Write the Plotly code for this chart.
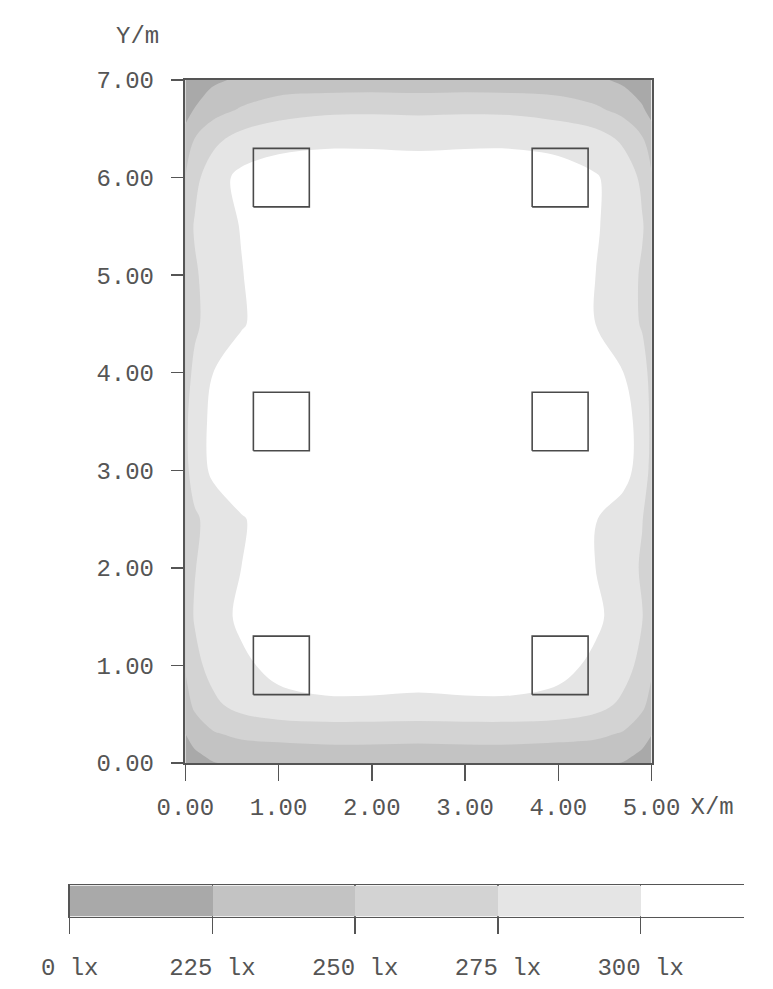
import plotly.graph_objects as go

# ---- data ----
x_nodes = [0, 0.1, 0.3, 0.6, 1.0, 1.5, 2.0, 2.5, 3.0, 3.5, 4.0, 4.4, 4.7, 4.9, 5.0]
y_nodes = [0, 0.1, 0.3, 0.6, 1.0, 1.5, 2.0, 2.5, 3.0, 3.5, 4.0, 4.5, 5.0, 5.5, 6.0, 6.4, 6.7, 6.9, 7.0]

# illuminance in lx, one row per y_nodes value
E_y00 = [205, 214, 224, 230, 232, 234, 234, 233, 234, 234, 232, 230, 224, 214, 206]
E_y01 = [212, 222, 232, 238, 240, 242, 242, 241, 242, 242, 240, 238, 232, 222, 214]
E_y03 = [225, 236, 248, 255, 258, 260, 260, 259, 260, 260, 258, 255, 248, 236, 226]
E_y06 = [240, 255, 270, 284, 294, 297, 297, 296, 297, 297, 294, 284, 270, 255, 242]
E_y10 = [252, 268, 284, 296, 306, 310, 310, 309, 310, 310, 306, 296, 284, 268, 254]
E_y15 = [262, 277, 291, 304, 316, 322, 322, 320, 322, 322, 314, 304, 291, 276, 262]
E_y20 = [258, 274, 287, 300, 314, 322, 322, 320, 322, 322, 312, 300, 288, 272, 258]
E_y25 = [258, 271, 285, 298, 312, 320, 320, 318, 320, 320, 310, 301, 288, 276, 262]
E_y30 = [268, 287, 305, 317, 327, 325, 321, 319, 321, 325, 327, 317, 309, 289, 268]
E_y35 = [270, 288, 306, 318, 328, 326, 322, 320, 322, 326, 328, 318, 310, 290, 270]
E_y40 = [266, 280, 300, 312, 324, 324, 321, 319, 321, 324, 324, 312, 300, 284, 268]
E_y45 = [258, 271, 285, 298, 312, 320, 320, 318, 320, 320, 310, 300, 286, 273, 260]
E_y50 = [258, 272, 286, 299, 314, 322, 322, 320, 322, 322, 312, 300, 287, 272, 258]
E_y55 = [262, 277, 289, 301, 316, 322, 322, 320, 322, 322, 314, 302, 290, 277, 263]
E_y60 = [250, 268, 290, 306, 312, 314, 314, 313, 314, 314, 310, 302, 290, 270, 252]
E_y64 = [235, 250, 268, 284, 292, 295, 295, 294, 295, 295, 292, 286, 270, 252, 238]
E_y67 = [215, 226, 240, 252, 264, 270, 271, 270, 271, 270, 264, 254, 242, 228, 216]
E_y69 = [205, 215, 228, 238, 244, 246, 247, 246, 247, 246, 244, 238, 228, 216, 206]
E_y70 = [198, 208, 220, 230, 236, 238, 239, 238, 239, 238, 236, 230, 220, 208, 200]

E_rows = [E_y00, E_y01, E_y03, E_y06, E_y10, E_y15, E_y20, E_y25, E_y30, E_y35,
          E_y40, E_y45, E_y50, E_y55, E_y60, E_y64, E_y67, E_y69, E_y70]

levels = [225, 250, 275, 300]
level_labels = ["0 lx", "225 lx", "250 lx", "275 lx", "300 lx"]
band_colors = ["#a9a9a9", "#c3c3c3", "#d3d3d3", "#e5e5e5", "#ffffff"]

lum_x = [1.03, 4.02]
lum_y = [1.0, 3.5, 6.0]
lum_size = 0.6

x_ticks = [0, 1, 2, 3, 4, 5]
y_ticks = [0, 1, 2, 3, 4, 5, 6, 7]
x_unit = "X/m"
x_unit_pos = 5.65      # where the unit text sits, in metres along X
y_unit = "Y/m"

# ---- figure ----
W, H = 773, 989
FONT = "Liberation Mono"
FS = 24
TXT = "#555555"
LINE = "#555555"
NB = "\u00a0"

def px_x(p):
    return p / W

def px_y(p):
    return 1 - p / H

n = len(band_colors)

# contour fill: band k is sampled at k/(n-1) of the colorscale
cs = []
for i, c in enumerate(band_colors):
    lo = 0 if i == 0 else (i - 0.5) / (n - 1)
    hi = 1 if i == n - 1 else (i + 0.5) / (n - 1)
    cs.append([lo, c])
    cs.append([hi, c])

# heatmap legend: equal steps
cs_leg = []
for i, c in enumerate(band_colors):
    cs_leg.append([i / n, c])
    cs_leg.append([(i + 1) / n, c])

fig = go.Figure()

fig.add_trace(go.Contour(
    x=x_nodes, y=y_nodes, z=E_rows,
    contours=dict(start=levels[0], end=levels[-1], size=levels[1] - levels[0],
                  coloring="fill", showlines=False),
    line=dict(width=0),
    colorscale=cs, showscale=False, hoverinfo="skip",
    xaxis="x", yaxis="y",
))

h = lum_size / 2
for cx in lum_x:
    for cy in lum_y:
        fig.add_trace(go.Scatter(
            x=[cx - h, cx + h, cx + h, cx - h, cx - h],
            y=[cy - h, cy - h, cy + h, cy + h, cy - h],
            mode="lines", line=dict(color="#4a4a4a", width=1.6),
            showlegend=False, hoverinfo="skip", xaxis="x", yaxis="y",
        ))

# empty trace so the unit-carrying axis is drawn
fig.add_trace(go.Scatter(x=[], y=[], mode="markers", showlegend=False,
                         hoverinfo="skip", xaxis="x3", yaxis="y"))

# legend bar
fig.add_trace(go.Heatmap(
    x=[i + 0.5 for i in range(n)], y=[0.5],
    z=[list(range(n))], zmin=0, zmax=n,
    colorscale=cs_leg,
    showscale=False, hoverinfo="skip", xaxis="x2", yaxis="y2",
))

plot_l, plot_r, plot_t, plot_b = 169, 673, 70, 772
leg_l, leg_cell, leg_t, leg_b = 44, 154.3, 898, 930
px_per_m = (plot_r - plot_l) / 5.0
x3_r = W - 1

XT_LEN, XT_OFF = 16, 5

fig.update_layout(
    width=W, height=H, autosize=False,
    margin=dict(l=0, r=0, t=0, b=0),
    paper_bgcolor="white", plot_bgcolor="rgba(0,0,0,0)",
    showlegend=False,
    font=dict(family=FONT, size=FS, color=TXT),
    xaxis=dict(
        domain=[px_x(plot_l), px_x(plot_r)], range=[0, 5], anchor="y",
        tickvals=x_ticks, ticktext=[f"{v:.2f}" for v in x_ticks], tickangle=0,
        ticks="outside", ticklen=XT_LEN, tickwidth=1.5, tickcolor=LINE,
        ticklabelstandoff=XT_OFF,
        showline=True, linewidth=2.5, linecolor=LINE, mirror=True,
        showgrid=False, zeroline=False, fixedrange=True,
    ),
    # same metres-per-pixel as xaxis, stretched towards the page edge, only to carry the unit
    xaxis3=dict(
        domain=[px_x(plot_l), px_x(x3_r)], range=[0, (x3_r - plot_l) / px_per_m],
        anchor="y", side="bottom",
        tickvals=[x_unit_pos], ticktext=[x_unit], tickangle=0,
        ticks="outside", ticklen=XT_LEN, tickcolor="rgba(0,0,0,0)",
        ticklabelstandoff=XT_OFF, ticklabeloverflow="allow",
        showline=False, showgrid=False, zeroline=False, fixedrange=True,
    ),
    yaxis=dict(
        domain=[px_y(plot_b), px_y(plot_t)], range=[0, 7], anchor="x",
        tickvals=y_ticks, ticktext=[f"{v:.2f}" for v in y_ticks],
        ticks="outside", ticklen=12, tickwidth=1.5, tickcolor=LINE,
        ticklabelstandoff=12,
        showline=True, linewidth=2.5, linecolor=LINE, mirror=True,
        showgrid=False, zeroline=False, fixedrange=True,
    ),
    xaxis2=dict(
        domain=[px_x(leg_l), 1], range=[0, (W - leg_l) / leg_cell], anchor="y2",
        tickvals=list(range(n)), ticktext=[t.replace(" ", NB) for t in level_labels],
        tickangle=0,
        ticks="outside", ticklen=16, tickwidth=1.5, tickcolor=LINE,
        ticklabelstandoff=12,
        showline=True, linewidth=1.5, linecolor=LINE, mirror=True,
        showgrid=True, gridcolor=LINE, gridwidth=1.5,
        zeroline=False, fixedrange=True,
    ),
    yaxis2=dict(
        domain=[px_y(leg_b), px_y(leg_t)], range=[0, 1], anchor="x2",
        showticklabels=False, ticks="", showgrid=False, zeroline=False,
        showline=True, linewidth=1.5, linecolor=LINE, fixedrange=True,
    ),
    annotations=[
        dict(text=y_unit, xref="paper", yref="paper", x=px_x(143), y=px_y(25),
             showarrow=False, xanchor="right", yanchor="middle",
             font=dict(family=FONT, size=FS, color=TXT)),
    ],
)

fig.write_html(
    "out.html",
    config={"displayModeBar": False, "staticPlot": True},
    post_script=(
        "document.documentElement.style.overflow='hidden';"
        "document.body.style.margin='0';document.body.style.overflow='hidden';"
    ),
)
